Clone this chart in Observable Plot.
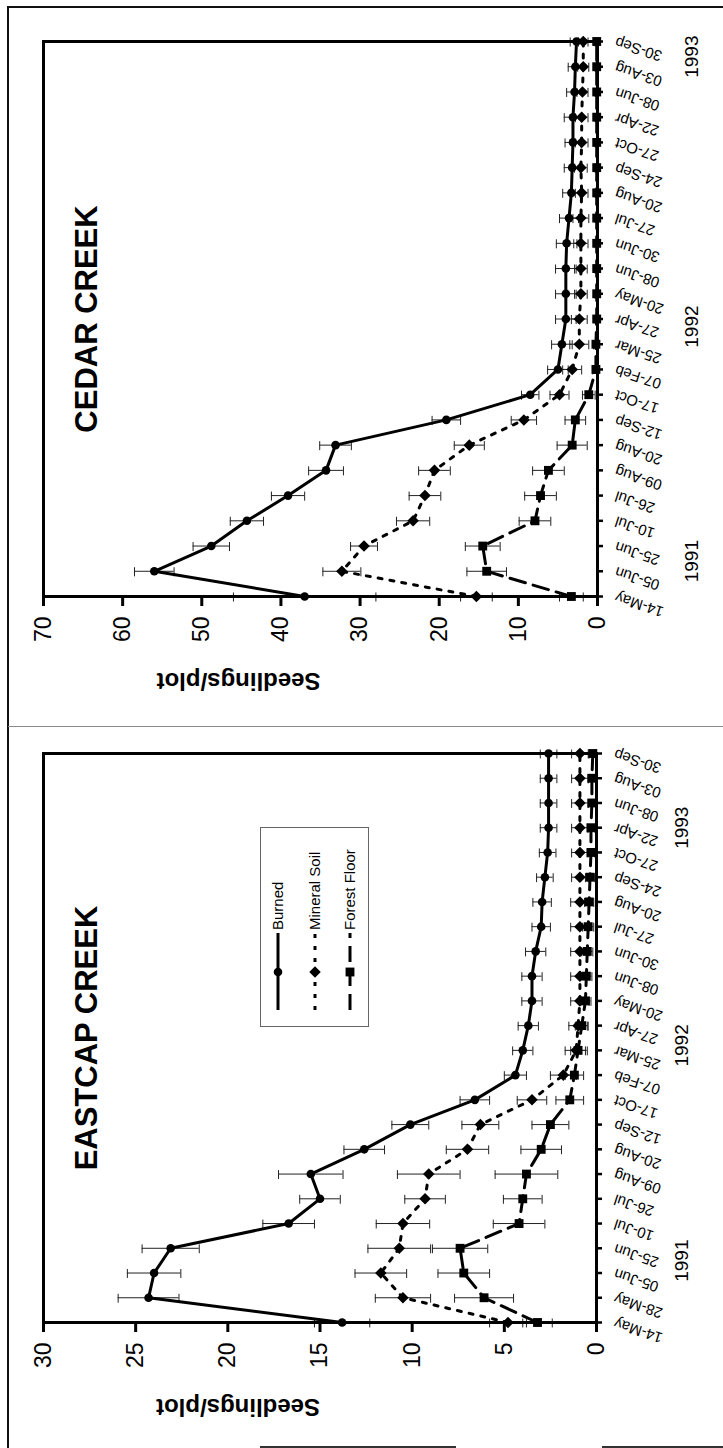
<!DOCTYPE html>
<html>
<head>
<meta charset="utf-8">
<script src="https://cdn.jsdelivr.net/npm/d3@7"></script>
<script src="https://cdn.jsdelivr.net/npm/@observablehq/plot@0.6"></script>
<style>
  html, body { margin: 0; padding: 0; background: #fff; overflow: hidden; }
  body { width: 723px; height: 1448px; position: relative; }
  #land { position: absolute; left: 0; top: 0; width: 1448px; height: 723px;
          transform-origin: 0 0; transform: translateY(1448px) rotate(-90deg);
          font-family: "Liberation Sans", Arial, sans-serif; }
  .pane { position: absolute; top: 0; height: 723px; }
  .ln { position: absolute; }
</style>
</head>
<body>
<div id="land">
  <div id="east" class="pane" style="left:0;width:722px"></div>
  <div id="cedar" class="pane" style="left:722px;width:726px"></div>
  <div class="ln" style="left:0;top:7px;width:1442px;border-top:2.5px solid #111"></div>
  <div class="ln" style="left:1440px;top:7px;height:716px;border-left:2.5px solid #111"></div>
  <div class="ln" style="left:721px;top:8px;height:715px;border-left:1.5px solid #8a8a8a"></div>
  <div class="ln" style="left:0;top:260px;height:196px;border-left:2px solid #333"></div>
  <div class="ln" style="left:0;top:602px;height:121px;border-left:2px solid #333"></div>
  <div id="legend" class="ln" style="left:421px;top:260px;width:200px;height:109px"></div>
</div>
<script>
// ---------------- DATA ----------------
const eastDates = ["14-May","28-May","05-Jun","25-Jun","10-Jul","26-Jul","09-Aug","20-Aug","12-Sep","17-Oct",
  "07-Feb","25-Mar","27-Apr","20-May","08-Jun","30-Jun","27-Jul","20-Aug","24-Sep","27-Oct",
  "22-Apr","08-Jun","03-Aug","30-Sep"];
const eastBurned     = [13.8,24.3,24.0,23.1,16.7,15.0,15.5,12.6,10.1,6.6, 4.4,4.0,3.7,3.5,3.5,3.3,3.0,2.95,2.8,2.65, 2.6,2.6,2.6,2.6];
const eastBurnedErr  = [1.5,1.65,1.45,1.55,1.4,1.1,1.75,1.1,1.0,0.8, 0.6,0.55,0.55,0.55,0.55,0.55,0.5,0.5,0.45,0.45, 0.45,0.45,0.45,0.45];
const eastMineral    = [4.8,10.5,11.7,10.7,10.5,9.3,9.1,7.0,6.3,3.5, 1.8,1.1,1.0,0.9,0.9,0.9,0.9,0.9,0.9,0.9, 0.9,0.9,0.9,0.9];
const eastMineralErr = [1.0,1.5,1.4,1.7,1.45,1.1,1.7,1.15,1.0,0.8, 0.7,0.6,0.5,0.5,0.5,0.5,0.5,0.5,0.45,0.45, 0.45,0.45,0.45,0.45];
const eastForest     = [3.2,6.1,7.2,7.4,4.2,4.0,3.8,3.0,2.5,1.45, 1.2,1.0,0.8,0.6,0.55,0.5,0.45,0.4,0.35,0.3, 0.3,0.25,0.25,0.2];
const eastForestErr  = [0.8,1.6,1.4,1.5,1.4,1.05,1.7,1.1,1.0,0.75, 0.5,0.4,0.35,0.3,0.3,0.3,0.3,0.25,0.25,0.2, 0.2,0.2,0.2,0.2];
const eastYears = [{label:"1991", at:2.5}, {label:"1992", at:11.2}, {label:"1993", at:20}];

const cedarDates = ["14-May","05-Jun","25-Jun","10-Jul","26-Jul","09-Aug","20-Aug","12-Sep","17-Oct",
  "07-Feb","25-Mar","27-Apr","20-May","08-Jun","30-Jun","27-Jul","20-Aug","24-Sep","27-Oct",
  "22-Apr","08-Jun","03-Aug","30-Sep"];
const cedarBurned     = [37.0,56.0,48.8,44.3,39.1,34.3,33.1,19.1,8.5, 5.0,4.5,4.0,4.0,4.0,3.9,3.6,3.3,3.2,3.1, 3.1,2.9,2.8,2.65];
const cedarBurnedErr  = [9.0,2.5,2.3,2.1,2.1,2.2,2.0,1.8,1.1, 1.3,1.3,1.3,1.3,1.3,1.3,1.2,1.1,1.0,1.0, 1.1,1.0,0.9,0.8];
const cedarMineral    = [15.3,32.3,29.5,23.3,21.8,20.6,16.2,9.3,4.8, 3.2,2.3,2.3,2.1,2.1,2.1,2.1,2.0,2.1,2.0, 2.0,1.9,1.8,1.8];
const cedarMineralErr = [2.0,2.4,1.7,2.1,2.0,2.0,1.9,1.6,1.2, 1.2,1.2,1.0,0.8,0.8,0.9,1.0,0.8,0.8,0.8, 0.8,0.7,0.7,0.6];
const cedarForest     = [3.3,14.0,14.5,7.9,7.2,6.2,3.2,2.8,1.1, 0.2,0.2,0.1,0.1,0.1,0.1,0.1,0.1,0.1,0.1, 0.1,0.1,0.1,0.1];
const cedarForestErr  = [1.5,2.5,2.2,2.0,2.0,2.0,1.9,1.3,0.8, 0.4,0.3,0.2,0.2,0.2,0.2,0.2,0.2,0.2,0.2, 0.2,0.2,0.2,0.2];
const cedarYears = [{label:"1991", at:1.4}, {label:"1992", at:10.7}, {label:"1993", at:21.4}];

const seriesNames = ["Burned", "Mineral Soil", "Forest Floor"];
const yLabel = "Seedlings/plot";

// ---------------- STYLES ----------------
const seriesStyle = {
  "Burned":       {dash: null,   symbol: "circle",   r: 4.3},
  "Mineral Soil": {dash: "4,8",  symbol: "diamond2", r: 5.2},
  "Forest Floor": {dash: "16,8", symbol: "square",   r: 5.0}
};
const FONT = "'Liberation Sans', Arial, sans-serif";

function rowsOf(vals, errs) {
  return vals.map((v, i) => ({i, v, lo: Math.max(0, v - errs[i]), hi: v + errs[i]}));
}

function panel(opts) {
  const {dates, series, ymax, ystep, title, years, width, mL, mR, mT, mB, yearDy} = opts;
  const n = dates.length;
  const marks = [];
  for (const s of series) {
    const d = rowsOf(s.values, s.errs);
    const st = seriesStyle[s.name];
    marks.push(Plot.ruleX(d, {x: "i", y1: "lo", y2: "hi", stroke: "#222", strokeWidth: 1}));
    marks.push(Plot.ruleY(d, {y: "lo", x1: r => r.i - 0.18, x2: r => r.i + 0.18, stroke: "#222", strokeWidth: 1}));
    marks.push(Plot.ruleY(d, {y: "hi", x1: r => r.i - 0.18, x2: r => r.i + 0.18, stroke: "#222", strokeWidth: 1}));
  }
  for (const s of series) {
    const d = rowsOf(s.values, s.errs);
    const st = seriesStyle[s.name];
    marks.push(Plot.line(d, {x: "i", y: "v", stroke: "#000", strokeWidth: 3,
      strokeDasharray: st.dash || undefined, strokeLinejoin: "round"}));
  }
  for (const s of series) {
    const d = rowsOf(s.values, s.errs);
    const st = seriesStyle[s.name];
    marks.push(Plot.dot(d, {x: "i", y: "v", symbol: st.symbol, r: st.r, fill: "#000", stroke: "none"}));
  }
  marks.push(Plot.frame({stroke: "#000", strokeWidth: 3}));
  marks.push(Plot.axisY({ticks: d3.range(0, ymax + 0.001, ystep), tickFormat: d => String(d),
    tickSize: 9, tickPadding: 11, strokeWidth: 3, fontSize: 23, label: null}));
  marks.push(Plot.axisX({ticks: d3.range(n), tickFormat: i => dates[i], tickRotate: -72,
    tickSize: 6, tickPadding: 12, strokeWidth: 2.5, fontSize: 15, label: null}));
  marks.push(Plot.text([title], {frameAnchor: "top", dy: 31, fontSize: 31, fontWeight: "bold", fill: "#000"}));
  marks.push(Plot.text([yLabel], {frameAnchor: "left", dx: -84, rotate: -90, fontSize: 24, fontWeight: "bold", fill: "#000"}));
  marks.push(Plot.text(years, {x: "at", text: "label", frameAnchor: "bottom", dy: yearDy, fontSize: 19, fill: "#000"}));
  return Plot.plot({
    width, height: 723,
    marginLeft: mL, marginRight: mR, marginTop: mT, marginBottom: mB,
    x: {type: "linear", domain: [0, n - 1]},
    y: {type: "linear", domain: [0, ymax]},
    style: {fontFamily: FONT, background: "transparent", color: "#000", overflow: "visible"},
    marks
  });
}

document.getElementById("east").appendChild(panel({
  dates: eastDates,
  series: [
    {name: "Burned", values: eastBurned, errs: eastBurnedErr},
    {name: "Mineral Soil", values: eastMineral, errs: eastMineralErr},
    {name: "Forest Floor", values: eastForest, errs: eastForestErr}
  ],
  ymax: 30, ystep: 5, title: "EASTCAP CREEK", years: eastYears,
  width: 722, mL: 125, mR: 28, mT: 43, mB: 127, yearDy: 91
}));

document.getElementById("cedar").appendChild(panel({
  dates: cedarDates,
  series: [
    {name: "Burned", values: cedarBurned, errs: cedarBurnedErr},
    {name: "Mineral Soil", values: cedarMineral, errs: cedarMineralErr},
    {name: "Forest Floor", values: cedarForest, errs: cedarForestErr}
  ],
  ymax: 70, ystep: 10, title: "CEDAR CREEK", years: cedarYears,
  width: 726, mL: 129, mR: 42, mT: 43, mB: 126, yearDy: 100
}));

// ---------------- LEGEND ----------------
(function () {
  const ns = "http://www.w3.org/2000/svg";
  const svg = d3.create("svg").attr("width", 200).attr("height", 109)
    .style("overflow", "visible").style("font-family", FONT);
  svg.append("rect").attr("x", 0.5).attr("y", 0.5).attr("width", 199).attr("height", 108)
    .attr("fill", "#fff").attr("stroke", "#666").attr("stroke-width", 1);
  const rowsY = [18, 55, 90];
  seriesNames.forEach((name, k) => {
    const st = seriesStyle[name];
    const y = rowsY[k];
    svg.append("line").attr("x1", 17).attr("x2", 94).attr("y1", y).attr("y2", y)
      .attr("stroke", "#000").attr("stroke-width", 3)
      .attr("stroke-dasharray", st.dash || null);
    const sym = {circle: d3.symbolCircle, diamond2: d3.symbolDiamond2, square: d3.symbolSquare}[st.symbol];
    svg.append("path").attr("transform", `translate(55,${y})`)
      .attr("d", d3.symbol(sym, Math.PI * st.r * st.r)()).attr("fill", "#000");
    svg.append("text").attr("x", 97).attr("y", y).attr("dy", "0.35em")
      .attr("font-size", 15).attr("fill", "#000").text(name);
  });
  document.getElementById("legend").appendChild(svg.node());
})();
</script>
</body>
</html>
